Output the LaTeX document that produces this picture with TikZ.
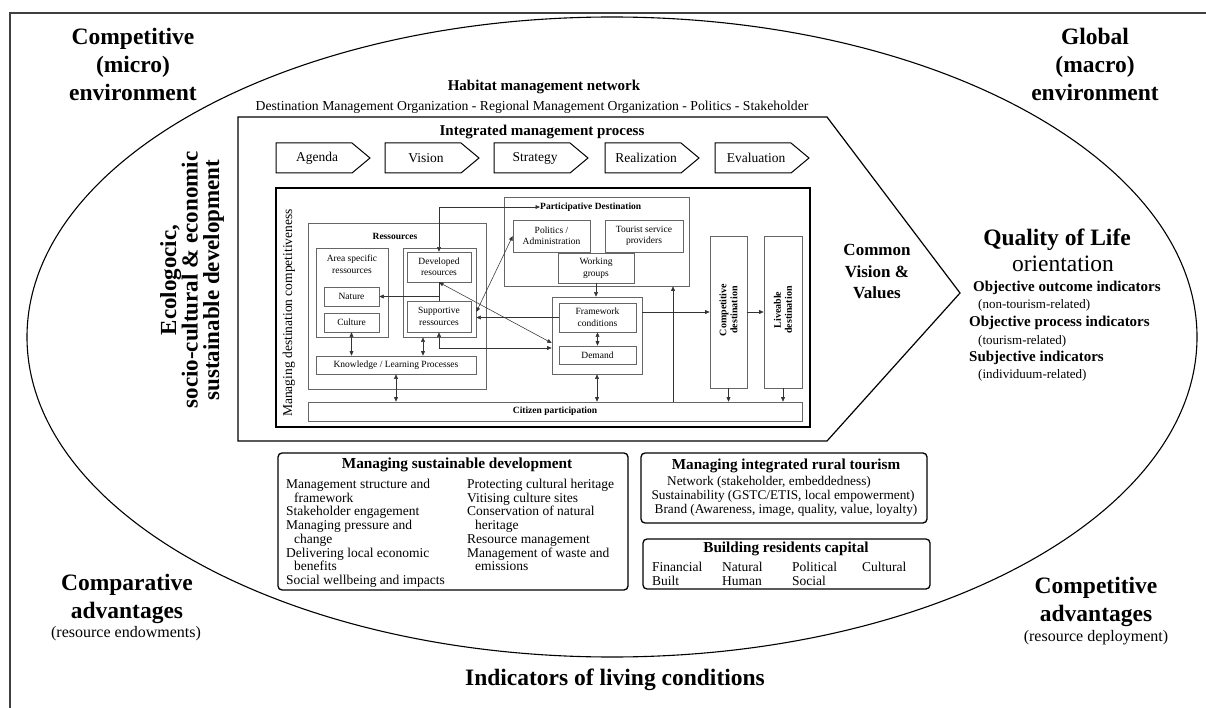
\documentclass[tikz,border=0pt]{standalone}
\usepackage{fontspec}
\setmainfont{Liberation Serif}
\usetikzlibrary{arrows.meta,calc}
\newcommand\myfs[2]{\fontsize{#1}{#2}\selectfont}
\begin{document}
\begin{tikzpicture}[x=1pt,y=-1pt,
  >={Triangle[length=4.5pt,width=3.8pt]},
  mainbox/.style={draw=black, line width=1.1pt, inner sep=0pt},
  gbox/.style={draw=black!60, line width=0.6pt, inner sep=0pt, align=center, font=\myfs{9.5}{11.5}},
  ifont/.style={font=\myfs{9.5}{11.5}},
  con/.style={draw=black!80, line width=0.55pt},
  procline/.style={draw=black, line width=1pt},
  proctext/.style={font=\myfs{13.5}{15}},
  rbox/.style={draw=black, line width=1.3pt, rounded corners=4pt, inner sep=0pt},
  big/.style={font=\bfseries\myfs{23.5}{28}, align=center},
  colnode/.style={anchor=north west, align=left, inner sep=0pt, font=\myfs{13.5}{13.7}},
  capcell/.style={anchor=west, inner sep=0pt, font=\myfs{13.5}{15}}
]
\useasboundingbox (0,0) rectangle (1206,708);
% outer frame and ellipse
\draw[line width=1.3pt, black!75] (10,708) -- (10,13) -- (1206,13);
\draw[line width=1.1pt] (612,337) ellipse [x radius=585, y radius=320];

% corner texts
\node[big] (micro) at (133,64) {Competitive\\(micro)\\environment};
\node[big] (macro) at (1095,64) {Global\\(macro)\\environment};
\node[big] (compa) at (127,599) {Comparative\\advantages};
\node[font=\myfs{16}{18}] (compas) at (126,634) {(resource endowments)};
\node[big] (compe) at (1096,602) {Competitive\\advantages};
\node[font=\myfs{16}{18}] (compes) at (1096,638) {(resource deployment)};
\node[font=\bfseries\myfs{23.5}{28}] (ilc) at (615,680) {Indicators of living conditions};

% left rotated
\node[font=\bfseries\myfs{23}{21.5}, align=center, rotate=90] (eco) at (192,280) {Ecologocic,\\socio-cultural \& economic\\sustainable development};

% quality of life
\node[font=\bfseries\myfs{23.5}{26}] (qol) at (1057,240) {Quality of Life};
\node[font=\myfs{23.5}{26}] (orient) at (1063,264) {orientation};
\node[font=\bfseries\myfs{15}{17}, anchor=west, inner sep=0pt] (ind1) at (973,288) {Objective outcome indicators};
\node[font=\myfs{13}{15}, anchor=west, inner sep=0pt] (ind1s) at (978,305) {(non-tourism-related)};
\node[font=\bfseries\myfs{15}{17}, anchor=west, inner sep=0pt] (ind2) at (969,323) {Objective process indicators};
\node[font=\myfs{13}{15}, anchor=west, inner sep=0pt] (ind2s) at (978,341) {(tourism-related)};
\node[font=\bfseries\myfs{15}{17}, anchor=west, inner sep=0pt] (ind3) at (969,358) {Subjective indicators};
\node[font=\myfs{13}{15}, anchor=west, inner sep=0pt] (ind3s) at (978,375) {(individuum-related)};

% habitat management network
\node[font=\bfseries\myfs{15}{17}] (hab) at (544,87) {Habitat management network};
\node[font=\myfs{13.7}{15}] (habsub) at (532,107) {Destination Management Organization - Regional Management Organization - Politics - Stakeholder};

% pentagon
\draw[line width=1.2pt, line join=miter] (238,117) -- (827,117) -- (960,293) -- (827,441) -- (238,441) -- cycle;
\node[font=\bfseries\myfs{17}{21.5}, align=center] (cvv) at (877,272) {Common\\Vision \&\\Values};
\node[font=\bfseries\myfs{15}{17}] (imp) at (542,132) {Integrated management process};

% process arrows
\foreach \x/\t [count=\i] in {276/Agenda,385/Vision,494/Strategy,605/Realization,715/Evaluation} {
  \draw[procline] (\x,143) -- ++(76,0) -- ++(18,15) -- ++(-18,15) -- ++(-76,0) -- cycle;
  \node[proctext] (p\i) at (\x+41,158) {\t};
}

% managing destination competitiveness
\node[mainbox, minimum width=534pt, minimum height=239pt] (mdc) at (543,307.5) {};
\node[font=\myfs{13.5}{15}, rotate=90] (mdct) at (289,313) {Managing destination competitiveness};

\node[gbox, minimum width=178pt, minimum height=166pt] (res) at (397,306) {};
\node[font=\bfseries\myfs{9.5}{11}] (rest) at (395,236) {Ressources};
\node[gbox, minimum width=72pt, minimum height=89pt] (area) at (352,292.5) {};
\node[ifont, align=center] (areat) at (352,264) {Area specific\\ressources};
\node[gbox, minimum width=55pt, minimum height=19pt] (nature) at (351.5,296.5) {Nature};
\node[gbox, minimum width=55pt, minimum height=19pt] (culture) at (351.5,322.5) {Culture};
\node[gbox, minimum width=73pt, minimum height=89pt] (group) at (439.5,292.5) {};
\node[gbox, minimum width=64pt, minimum height=30pt] (dev) at (439,267) {Developed\\resources};
\node[gbox, minimum width=64pt, minimum height=31pt] (supp) at (439,316.5) {Supportive\\ressources};
\node[gbox, minimum width=160pt, minimum height=18pt] (know) at (396,365) {Knowledge / Learning Processes};
\node[gbox, minimum width=494pt, minimum height=19pt, font=\bfseries\myfs{9.5}{11}] (cit) at (555,411.5) {Citizen participation};

\node[gbox, minimum width=185pt, minimum height=89pt] (pd) at (596.5,241.5) {};
\node[font=\bfseries\myfs{9.5}{11}, anchor=west, inner sep=0pt] (pdt) at (540,207) {Participative Destination};
\node[gbox, minimum width=77pt, minimum height=32pt] (pol) at (551.5,236) {Politics /\\Administration};
\node[gbox, minimum width=78pt, minimum height=32pt] (tour) at (644,236) {Tourist service\\providers};
\node[gbox, minimum width=76pt, minimum height=30pt] (work) at (596,268) {Working\\groups};

\node[gbox, minimum width=90pt, minimum height=77pt] (fw) at (597,335.5) {};
\node[gbox, minimum width=77pt, minimum height=29pt] (fwc) at (597.5,317.5) {Framework\\conditions};
\node[gbox, minimum width=77pt, minimum height=18pt] (dem) at (597.5,355) {Demand};

\node[gbox, minimum width=37pt, minimum height=152pt] (cd) at (728.5,312) {};
\node[font=\bfseries\myfs{10}{11}, align=center, rotate=90] (cdt) at (728.5,310) {Competitive\\destination};
\node[gbox, minimum width=38pt, minimum height=152pt] (ld) at (783,312) {};
\node[font=\bfseries\myfs{10}{11}, align=center, rotate=90] (ldt) at (783,310) {Liveable\\destination};

% connectors
\draw[con,<->] (dev.north) |- (pdt.west);
\draw[con] (dev.south) -- (supp.north);
\draw[con,->] (dev.south |- nature.east) -- (nature.east);
\draw[con,<->] (culture.south) -- (culture.south |- know.north);
\draw[con,<->] (423,0 |- group.south) -- (423,0 |- know.north);
\draw[con,<->] (supp.south) |- (fw.west |- 0,348);
\draw[con,->] (fwc.west) -- (group.east |- fwc.west);
\draw[con,<->] (dev.south) -- (fw.west |- 0,343);
\draw[con,<->] (group.east |- 0,312) -- (pol.west);
\draw[con,->] (work.south) -- (work.south |- fw.north);
\draw[con,<->] (fwc.south) -- (dem.north);
\draw[con,<->] (fw.south) -- (fw.south |- cit.north);
\draw[con,<->] (know.south) -- (know.south |- cit.north);
\draw[con,->] (fw.east |- cd.west) -- (cd.west);
\draw[con,->] (cd.east) -- (ld.west);
\draw[con,->] (cd.south) -- (cd.south |- cit.north);
\draw[con,->] (ld.south) -- (ld.south |- cit.north);
\draw[con,->] (673,0 |- cit.north) -- (673,0 |- pd.south);

% managing sustainable development
\node[rbox, minimum width=350pt, minimum height=137pt] (msd) at (453,521.5) {};
\node[font=\bfseries\myfs{15.3}{17}] (msdt) at (457,465) {Managing sustainable development};
\node[colnode] (msdl) at (286,479) {Management structure and\\\hspace*{8pt}framework\\Stakeholder engagement\\Managing pressure and\\\hspace*{8pt}change\\Delivering local economic\\\hspace*{8pt}benefits\\Social wellbeing and impacts};
\node[colnode] (msdr) at (467,479) {Protecting cultural heritage\\Vitising culture sites\\Conservation of natural\\\hspace*{8pt}heritage\\Resource management\\Management of waste and\\\hspace*{8pt}emissions};

% managing integrated rural tourism
\node[rbox, minimum width=286pt, minimum height=70pt] (mirt) at (784,488) {};
\node[font=\bfseries\myfs{15.2}{17}] (mirtt) at (786,466) {Managing integrated rural tourism};
\node[font=\myfs{13.3}{15}] (mirt1) at (769,482) {Network (stakeholder, embeddedness)};
\node[font=\myfs{13.3}{15}] (mirt2) at (783,496) {Sustainability (GSTC/ETIS, local empowerment)};
\node[font=\myfs{13.3}{15}] (mirt3) at (786,510) {Brand (Awareness, image, quality, value, loyalty)};

% building residents capital
\node[rbox, minimum width=287pt, minimum height=50pt] (brc) at (786.5,564) {};
\node[font=\bfseries\myfs{15.2}{17}] (brct) at (786,549) {Building residents capital};
\node[capcell] (c1) at (652,567) {Financial};
\node[capcell] (c2) at (722,567) {Natural};
\node[capcell] (c3) at (792,567) {Political};
\node[capcell] (c4) at (862,567) {Cultural};
\node[capcell] (c5) at (652,581) {Built};
\node[capcell] (c6) at (722,581) {Human};
\node[capcell] (c7) at (792,581) {Social};
\end{tikzpicture}
\end{document}
